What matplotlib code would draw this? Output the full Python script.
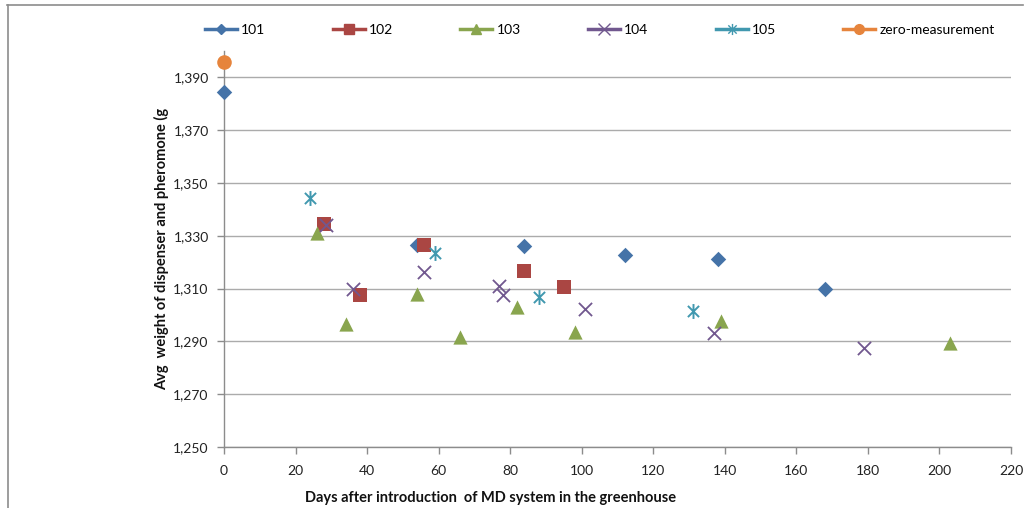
import matplotlib
matplotlib.use("Agg")
import matplotlib.pyplot as plt
from matplotlib.lines import Line2D
from matplotlib.path import Path
from matplotlib.ticker import FuncFormatter

plt.rcParams['font.family'] = ['Lato', 'DejaVu Sans']

# ---- data ----
x101 = [0, 54, 84, 112, 138, 168]
y101 = [1.3845, 1.3265, 1.3263, 1.3227, 1.3211, 1.3098]
x102 = [28, 38, 56, 84, 95]
y102 = [1.3343, 1.3075, 1.3267, 1.3166, 1.3105]
x103 = [26, 34, 54, 66, 82, 98, 139, 203]
y103 = [1.3311, 1.2965, 1.3079, 1.2917, 1.3031, 1.2934, 1.2978, 1.2893]
x104 = [28.5, 36, 56, 77, 78, 101, 137, 179]
y104 = [1.3340, 1.3097, 1.3161, 1.3109, 1.3075, 1.3021, 1.2930, 1.2876]
x105 = [24, 59, 88, 131]
y105 = [1.3443, 1.3235, 1.3069, 1.3016]
x_zero = [0]
y_zero = [1.3958]

series_names = ['101', '102', '103', '104', '105', 'zero-measurement']
colors = ['#4573A8', '#AA4643', '#89A54E', '#71588F', '#4198AF', '#E6843C']

xticks = list(range(0, 221, 20))
yticks = [1.250, 1.270, 1.290, 1.310, 1.330, 1.350, 1.370, 1.390]

# asterisk marker: vertical + two diagonals
ast = Path([(0, -1), (0, 1), (-0.75, -0.75), (0.75, 0.75), (-0.75, 0.75), (0.75, -0.75)],
           [Path.MOVETO, Path.LINETO, Path.MOVETO, Path.LINETO, Path.MOVETO, Path.LINETO])

fig = plt.figure(figsize=(10.25, 5.08), dpi=100)
ax = fig.add_axes([224/1025, 1-447/508, 787/1025, (447-51)/508])

ax.scatter(x101, y101, marker='D', s=62, color=colors[0], zorder=3, linewidths=0)
ax.scatter(x102, y102, marker='s', s=95, color=colors[1], zorder=3, linewidths=0)
ax.scatter(x103, y103, marker='^', s=105, color=colors[2], zorder=3, linewidths=0)
ax.scatter(x104, y104, marker='x', s=90, color=colors[3], zorder=4, linewidths=1.3)
ax.scatter(x105, y105, marker=ast, s=115, color=colors[4], zorder=4, linewidths=1.4)
ax.scatter(x_zero, y_zero, marker='o', s=110, color=colors[5], zorder=3, linewidths=0)

ax.set_xlim(0, 220)
ax.set_ylim(1.250, 1.400)
ax.set_xticks(xticks)
ax.set_yticks(yticks)
ax.yaxis.set_major_formatter(FuncFormatter(lambda v, p: f"{v:.3f}".replace('.', ',')))

for c in ax.collections:
    c.set_clip_on(False)

ax.grid(axis='y', color='#ABABAB', linewidth=1.0)
ax.set_axisbelow(True)
for s in ['top', 'right']:
    ax.spines[s].set_visible(False)
for s in ['left', 'bottom']:
    ax.spines[s].set_color('#8C8C8C')
    ax.spines[s].set_linewidth(1.0)
ax.tick_params(axis='both', colors='#8C8C8C', length=5, width=1.0, labelcolor='#222222', labelsize=10)
ax.tick_params(axis='x', pad=8)
ax.tick_params(axis='y', pad=6)

# legend
markers = ['D', 's', '^', 'x', ast, 'o']
msizes = [5, 7, 7, 8, 8, 7]
handles = []
for name, col, mk, ms in zip(series_names, colors, markers, msizes):
    handles.append(Line2D([], [], color=col, linewidth=2.5, marker=mk, markersize=ms,
                          markeredgewidth=1.0, label=name))
fig.legend(handles=handles, loc='center left', bbox_to_anchor=(205/1025, 1-30/508),
           ncol=6, frameon=False, fontsize=10, handlelength=2.3, handletextpad=0.3,
           columnspacing=4.85, borderaxespad=0, borderpad=0)

fig.text(162/1025, 1-249/508, 'Avg  weight of dispenser and pheromone (g', rotation=90,
         ha='center', va='center', fontsize=10.5, fontweight='bold', color='#111111')
fig.text(491/1025, 1-498/508, 'Days after introduction  of MD system in the greenhouse',
         ha='center', va='center', fontsize=10.5, fontweight='bold', color='#111111')

# outer chart frame (top and left visible)
fig.add_artist(Line2D([7/1025, 1023/1025], [1-4.5/508, 1-4.5/508], color='#8C8C8C', linewidth=1.2, transform=fig.transFigure))
fig.add_artist(Line2D([7.5/1025, 7.5/1025], [0, 1-4.5/508], color='#8C8C8C', linewidth=1.2, transform=fig.transFigure))

fig.savefig('out.png', dpi=100)
